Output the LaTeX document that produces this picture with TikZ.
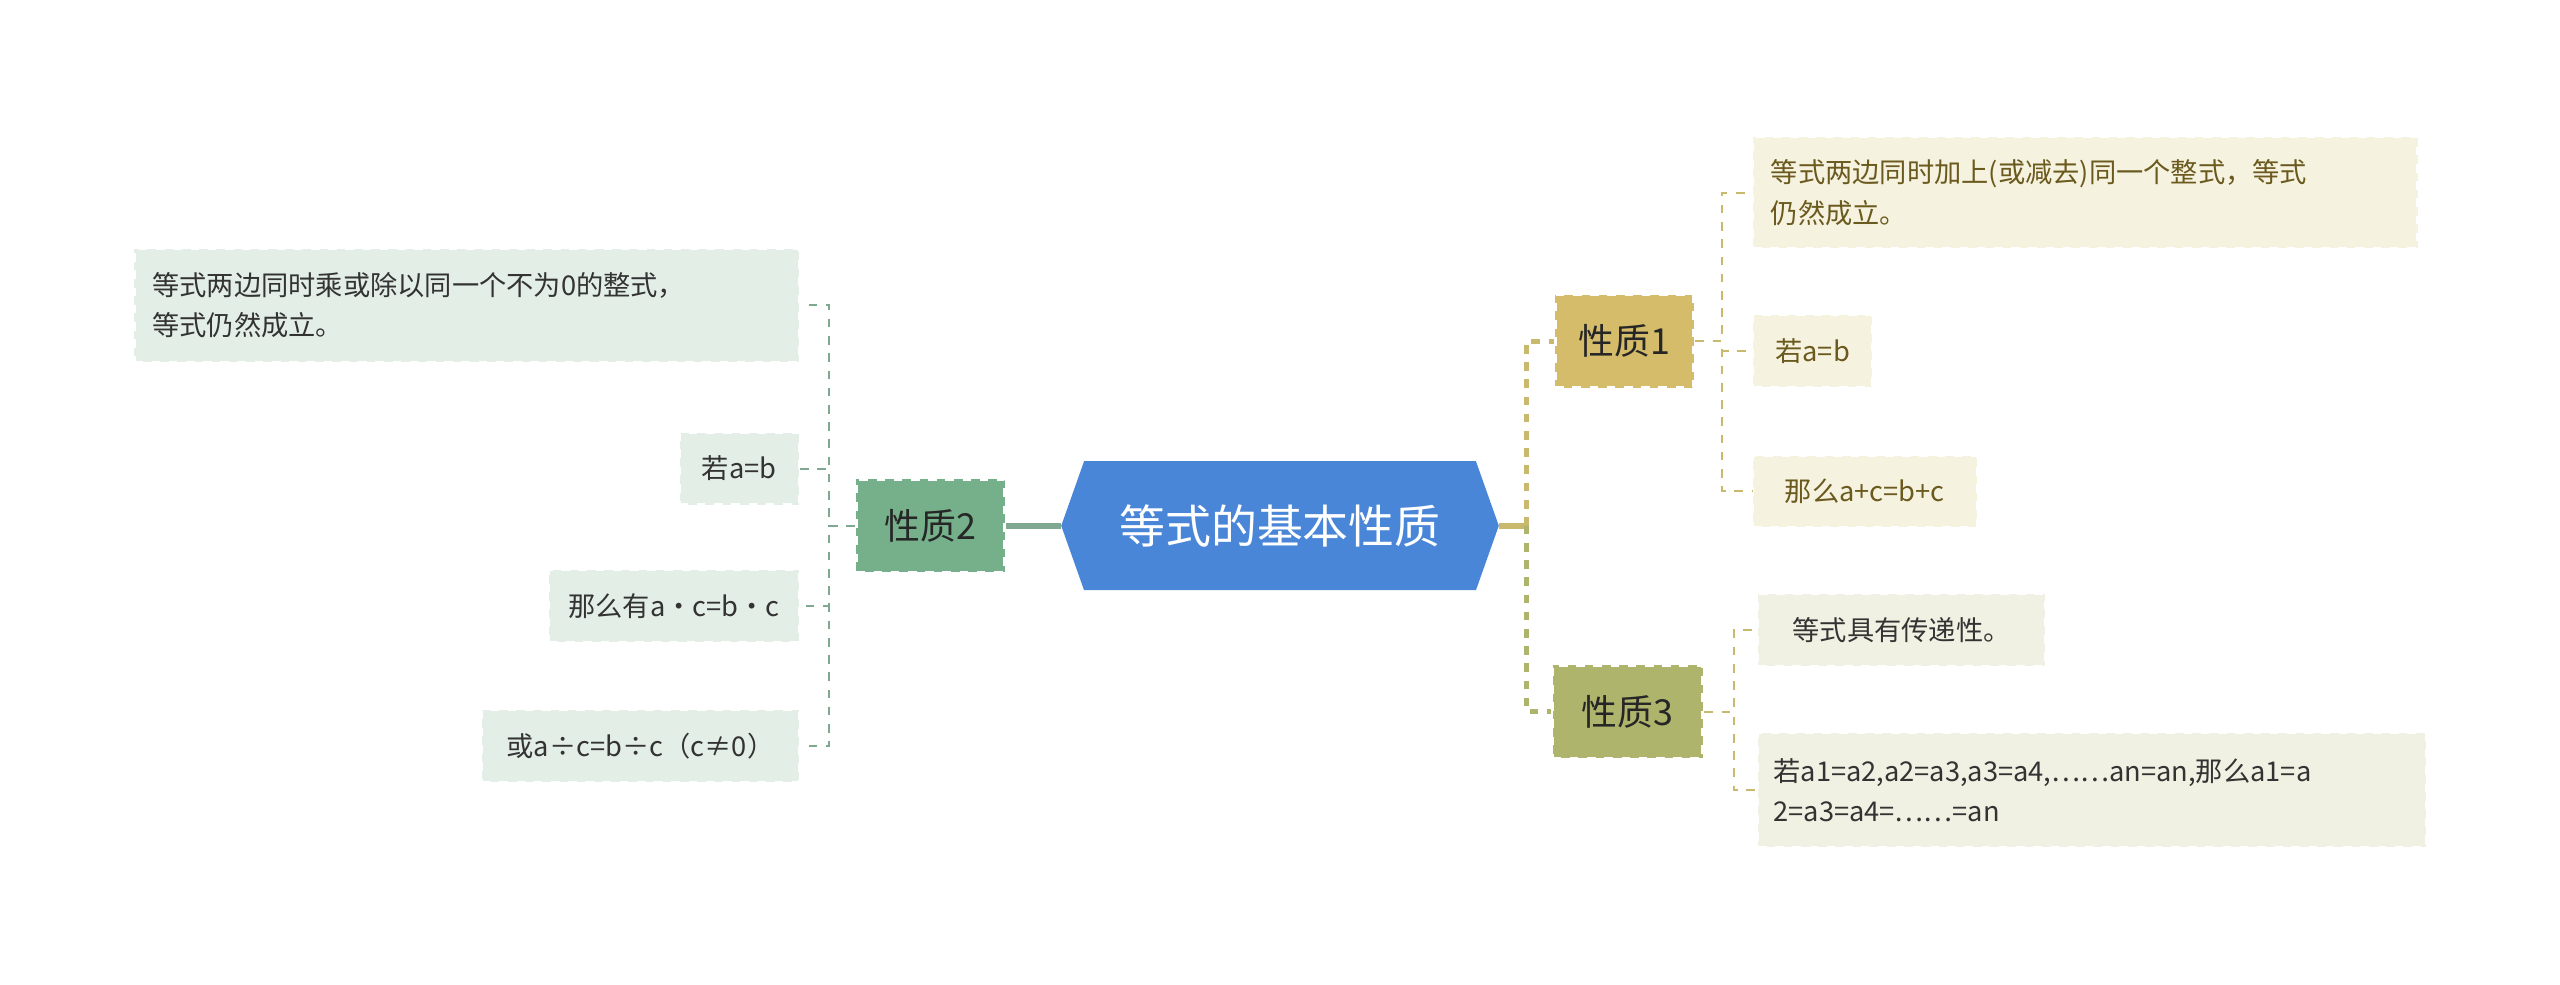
\documentclass[tikz,border=0pt]{standalone}
\usepackage{fontspec}
\setmainfont{Noto Sans CJK SC}
\usetikzlibrary{shapes.symbols}
\definecolor{rootblue}{HTML}{4A86D8}
\definecolor{gold}{HTML}{D4BC6A}
\definecolor{olive}{HTML}{AEB46C}
\definecolor{sage}{HTML}{76B08A}
\definecolor{creamleaf}{HTML}{F6F2E0}
\definecolor{oliveleaf}{HTML}{F1F1E3}
\definecolor{mintleaf}{HTML}{E3EEE6}
\definecolor{browntext}{HTML}{6B5A1E}
\definecolor{goldline}{HTML}{C9B96C}
\definecolor{greenline}{HTML}{7FA890}
\tikzset{
  topic/.style={draw=white,dashed,line width=1pt,inner sep=0pt,
    minimum height=57*0.02cm,font=\fontsize{12.5}{15}\selectfont,text=black!85},
  leaf/.style={draw=white,dashed,line width=.8pt,inner sep=0pt,
    minimum height=44*0.02cm,font=\fontsize{9.5}{14}\selectfont,align=left},
  link/.style={dashed,line width=.7pt},
}
\begin{document}
\begin{tikzpicture}[x=0.02cm,y=-0.02cm]
  \useasboundingbox (0,0) rectangle (1568,603);
  % centre
  \node (root) [signal,signal to=west and east,signal pointer angle=141,
    fill=rootblue,minimum width=268*0.02cm,minimum height=79*0.02cm,
    inner sep=0pt,text=white,font=\fontsize{16}{19}\selectfont] at (784,322) {等式的基本性质};
  % main topics
  \node (p1) [topic,fill=gold,minimum width=85*0.02cm] at (995,209) {性质1};
  \node (p3) [topic,fill=olive,minimum width=92*0.02cm] at (997,436) {性质3};
  \node (p2) [topic,fill=sage,minimum width=91*0.02cm] at (570,322) {性质2};
  % leaves of p1
  \node (a1) [leaf,fill=creamleaf,text=browntext,minimum width=407*0.02cm,minimum height=68*0.02cm,
    text width=385*0.02cm,anchor=west] at (1073,118)
    {等式两边同时加上(或减去)同一个整式，等式\\仍然成立。};
  \node (a2) [leaf,fill=creamleaf,text=browntext,minimum width=73*0.02cm,anchor=west] at (1073,215) {若a=b};
  \node (a3) [leaf,fill=creamleaf,text=browntext,minimum width=137*0.02cm,anchor=west] at (1073,301) {那么a+c=b+c};
  % leaves of p3
  \node (c1) [leaf,fill=oliveleaf,text=black!80,minimum width=176*0.02cm,anchor=west] at (1076,386) {等式具有传递性。};
  \node (c2) [leaf,fill=oliveleaf,text=black!80,minimum width=409*0.02cm,minimum height=70*0.02cm,
    text width=390*0.02cm,anchor=west] at (1076,484)
    {若a1=a2,a2=a3,a3=a4,……an=an,那么a1=a\\2=a3=a4=……=an};
  % leaves of p2
  \node (b1) [leaf,fill=mintleaf,text=black!80,minimum width=407*0.02cm,minimum height=69*0.02cm,
    text width=385*0.02cm,anchor=east] at (490,187)
    {等式两边同时乘或除以同一个不为0的整式，\\等式仍然成立。};
  \node (b2) [leaf,fill=mintleaf,text=black!80,minimum width=73*0.02cm,anchor=east] at (490,287) {若a=b};
  \node (b3) [leaf,fill=mintleaf,text=black!80,minimum width=153*0.02cm,anchor=east] at (490,371) {那么有a·c=b·c};
  \node (b4) [leaf,fill=mintleaf,text=black!80,minimum width=194*0.02cm,anchor=east] at (490,457) {或a÷c=b÷c（c≠0）};
  % connectors
  \coordinate (rj) at (935,322);
  \draw[goldline,line width=2pt] (root.east) -- (rj);
  \draw[goldline,link,line width=1.8pt] (rj) |- (p1.west);
  \draw[olive,link,line width=1.8pt] (rj) |- (p3.west);
  \draw[greenline,line width=2pt] (root.west) -- (p2.east);
  \coordinate (j1) at (1055,209);
  \foreach \n in {a1,a2,a3} \draw[goldline,link] (p1.east) -- (j1) |- (\n.west);
  \coordinate (j3) at (1062,436);
  \foreach \n in {c1,c2} \draw[goldline,link] (p3.east) -- (j3) |- (\n.west);
  \coordinate (j2) at (508,322);
  \foreach \n in {b1,b2,b3,b4} \draw[greenline,link] (p2.west) -- (j2) |- (\n.east);
\end{tikzpicture}
\end{document}
